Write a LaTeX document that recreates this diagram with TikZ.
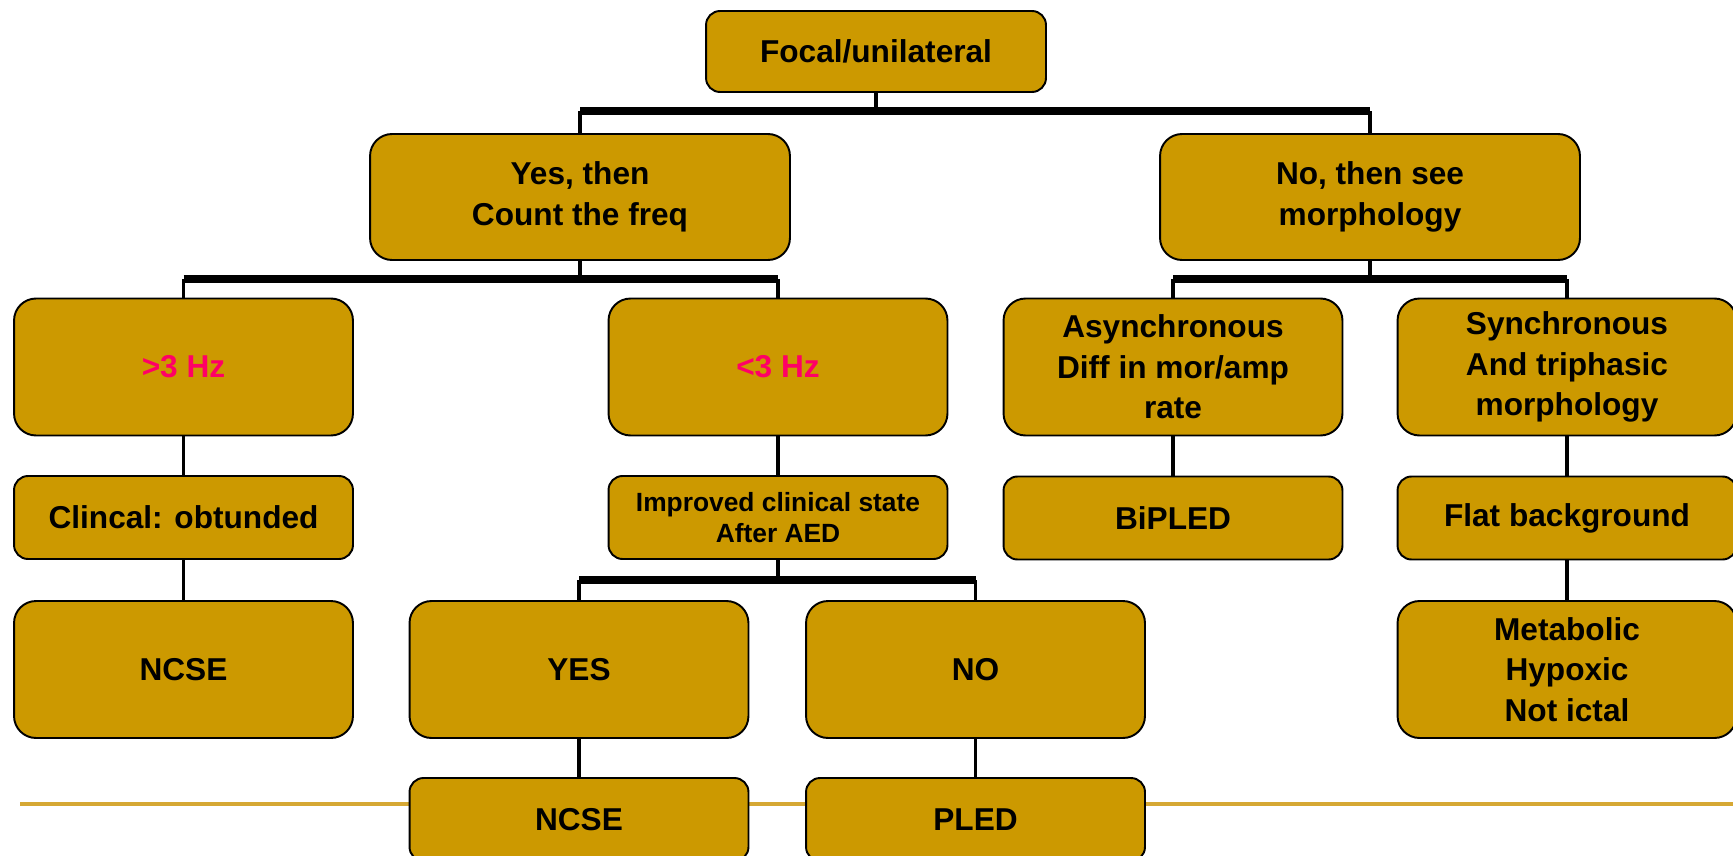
\documentclass[tikz,border=0pt]{standalone}
\usepackage{fontspec}
\setmainfont{Liberation Sans}
\definecolor{boxgold}{RGB}{204,153,0}
\definecolor{rulegold}{RGB}{214,168,52}
\definecolor{hzred}{RGB}{255,0,102}
\tikzset{
  box/.style={draw,line width=1.1pt,fill=boxgold,align=center,inner sep=2pt,
    font=\bfseries\fontsize{18}{23}\selectfont},
  tallbox/.style={box,minimum width=6.78cm,minimum height=2.74cm,rounded corners=0.44cm},
  lowbox/.style={box,minimum width=6.78cm,minimum height=1.66cm,rounded corners=0.28cm},
  stem/.style={line width=2.2pt},
  bar/.style={line width=4pt}
}

\begin{document}
\begin{tikzpicture}[x=0.02cm,y=-0.02cm]
                        \useasboundingbox (0,0) rectangle (1733,855);
                        % gold rule behind the bottom row
                        \coordinate (RL) at (20,804);
                        \coordinate (RR) at (1733,804);
                        \draw [rulegold,line width=2.4pt] (RL) -- (RR);
                        % Level 0
                        \node[box,minimum width=6.8cm,minimum height=1.62cm,rounded corners=0.28cm] (F) at (876,51.5) {Focal/unilateral};
                        % Level 1
                        \node[tallbox,minimum width=8.4cm,minimum height=2.52cm] (Y) at (580,197) {Yes, then\\Count the freq};
                        \node[tallbox,minimum width=8.4cm,minimum height=2.52cm] (N) at (1370,197) {No, then see\\morphology};
                        % Level 2
                        \node[tallbox,text=hzred] (Y1) at (183.5,367) {>3 Hz};
                        \node[tallbox,text=hzred] (Y2) at (778,367) {<3 Hz};
                        \node[tallbox] (N1) at (1173,367) {Asynchronous\\Diff in mor/amp\\rate};
                        \node[tallbox] (N2) at (1567,367) {Synchronous\\And triphasic\\morphology};
                        % Level 3
                        \node[lowbox] (Y1a) at (183.5,517.5) {Clincal: obtunded};
                        \node[lowbox,font=\bfseries\fontsize{15}{18}\selectfont] (Y2a) at (778,517.5) {Improved clinical state\\After AED};
                        \node[lowbox] (N1a) at (1173,518) {BiPLED};
                        \node[lowbox] (N2a) at (1567,518) {Flat background};
                        % Level 4
                        \node[tallbox] (Y1b) at (183.5,669.5) {NCSE};
                        \node[tallbox] (Y2b) at (579,669.5) {YES};
                        \node[tallbox] (Y2c) at (975.5,669.5) {NO};
                        \node[tallbox] (N2b) at (1567,669.5) {Metabolic\\Hypoxic\\Not ictal};
                        % Level 5
                        \node[lowbox] (Y2bb) at (579,819.5) {NCSE};
                        \node[lowbox] (Y2cc) at (975.5,819.5) {PLED};
                        % junctions
                        \coordinate (J0) at (876,111);
                        \coordinate (JY) at (580,279);
                        \coordinate (JN) at (1370,279);
                        \coordinate (JA) at (778,580);
                        % links 0 -> 1
                        \draw [stem] (F.south) -- (J0);
                        \draw [bar] (Y.north |- J0) -- (N.north |- J0);
                        \draw [stem] (Y.north |- J0) -- (Y.north);
                        \draw [stem] (N.north |- J0) -- (N.north);
                        % links 1 -> 2
                        \draw [stem] (Y.south) -- (JY);
                        \draw [bar] (Y1.north |- JY) -- (Y2.north |- JY);
                        \draw [stem] (Y1.north |- JY) -- (Y1.north);
                        \draw [stem] (Y2.north |- JY) -- (Y2.north);
                        \draw [stem] (N.south) -- (JN);
                        \draw [bar] (N1.north |- JN) -- (N2.north |- JN);
                        \draw [stem] (N1.north |- JN) -- (N1.north);
                        \draw [stem] (N2.north |- JN) -- (N2.north);
                        % straight links
                        \draw [stem] (Y1) -- (Y1a);
                        \draw [stem] (Y1a) -- (Y1b);
                        \draw [stem] (Y2) -- (Y2a);
                        \draw [stem] (N1) -- (N1a);
                        \draw [stem] (N2) -- (N2a);
                        \draw [stem] (N2a) -- (N2b);
                        % after AED
                        \draw [stem] (Y2a.south) -- (JA);
                        \draw [bar] (Y2b.north |- JA) -- (Y2c.north |- JA);
                        \draw [stem] (Y2b.north |- JA) -- (Y2b.north);
                        \draw [stem] (Y2c.north |- JA) -- (Y2c.north);
                        \draw [stem] (Y2b) -- (Y2bb);
                        \draw [stem] (Y2c) -- (Y2cc);
                    \end{tikzpicture}
\end{document}
